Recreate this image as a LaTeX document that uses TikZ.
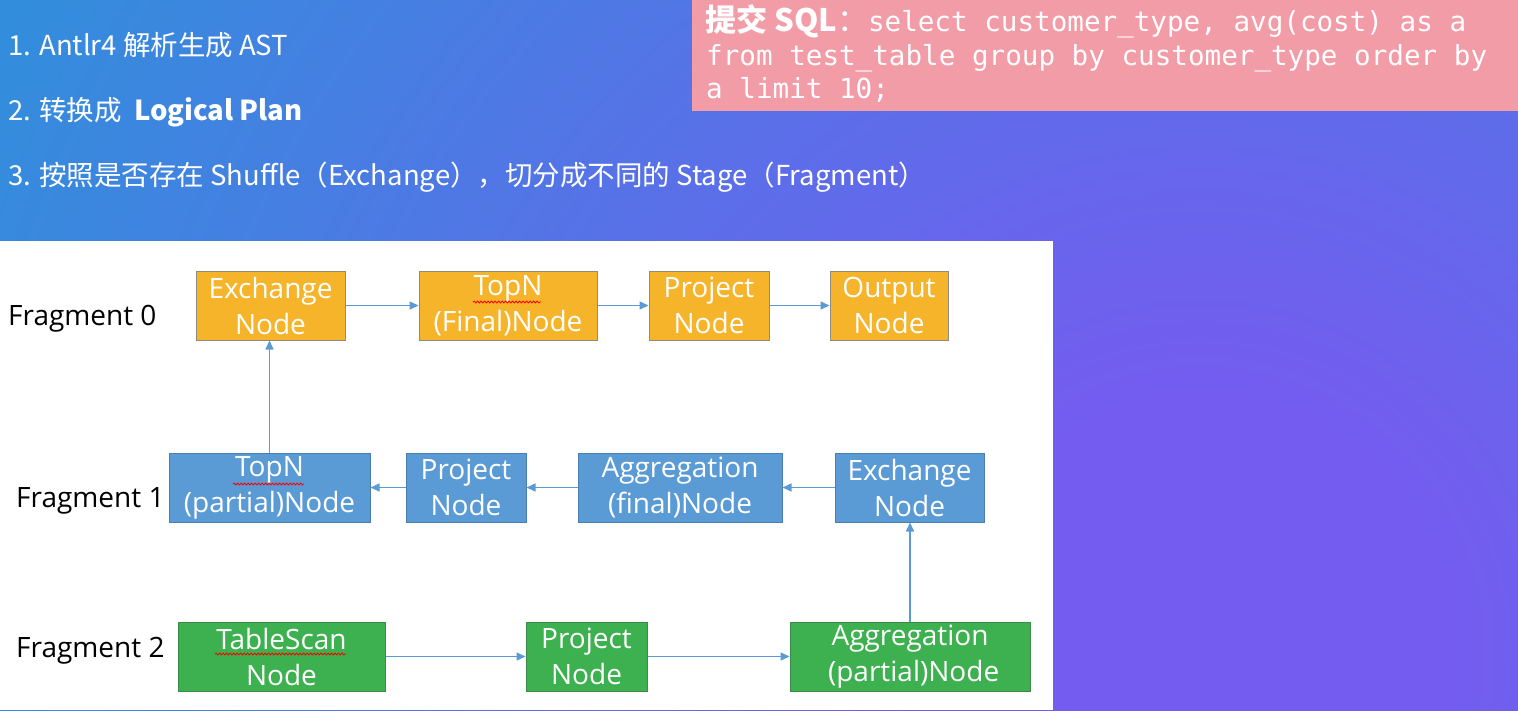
\documentclass[tikz,border=0pt]{standalone}
\usepackage{fontspec}
\setmainfont{Noto Sans CJK SC}
\newfontfamily\boxfont{Open Sans}
\newfontfamily\cjkfont{Noto Sans CJK SC}
\setmonofont{DejaVu Sans Mono}
\usetikzlibrary{arrows.meta,decorations.pathmorphing}
\definecolor{bgpurple}{HTML}{745CF0}
\definecolor{bgblue}{HTML}{2F90DB}
\definecolor{sqlpink}{HTML}{F29CA8}
\definecolor{orfill}{HTML}{F6B42A}
\definecolor{orline}{HTML}{8E8A7E}
\definecolor{blfill}{HTML}{5B9BD5}
\definecolor{blline}{HTML}{4A7EB0}
\definecolor{grfill}{HTML}{3DB04F}
\definecolor{grline}{HTML}{3A8A48}
\definecolor{arrowc}{HTML}{5B9BD5}
\pgfdeclareradialshading{bgshade}{\pgfpoint{0bp}{0bp}}{color(0bp)=(bgpurple); color(4.5bp)=(bgpurple); color(25bp)=(bgblue); color(50bp)=(bgblue)}
\tikzset{
  blk/.style={draw, line width=1pt, text=white, align=center, inner sep=0pt,
    minimum height=69pt, font=\boxfont\fontsize{28}{36}\selectfont},
  orb/.style={blk, fill=orfill, draw=orline},
  blb/.style={blk, fill=blfill, draw=blline},
  grb/.style={blk, fill=grfill, draw=grline},
  conn/.style={draw=arrowc, line width=1.5pt, -{Triangle[length=9pt,width=8pt]}},
  fraglbl/.style={anchor=base west, inner sep=0pt, text=black, font=\boxfont\fontsize{28}{34}\selectfont},
  toptxt/.style={anchor=base west, inner sep=0pt, text=white, font=\fontsize{27.5}{32}\selectfont},
  sqltxt/.style={anchor=base west, inner sep=0pt, text=white, font=\ttfamily\fontsize{27.6}{34}\selectfont},
  squig/.style={draw=red, line width=0.8pt, decorate, decoration={snake, amplitude=1pt, segment length=3.5pt}}
}
\begin{document}
\begin{tikzpicture}[x=1pt,y=-1pt]
\useasboundingbox (0,0) rectangle (1518,710);
% background
\begin{scope}
  \clip (0,0) rectangle (1518,710);
  \path[shading=bgshade] (-200,-750) rectangle (2600,2050);
\end{scope}
% white panel
\fill[white] (0,241) rectangle (1053,710);
% SQL box
\fill[sqlpink] (692,0) rectangle (1518,111);
\node[sqltxt] (s1) at (705,31) {{\cjkfont\bfseries\fontsize{31}{34}\selectfont 提交 SQL}{\cjkfont\fontsize{31}{34}\selectfont ：}select customer\textunderscore type, avg(cost) as a};
\node[sqltxt] (s2) at (706,65) {from test\textunderscore table group by customer\textunderscore type order by};
\node[sqltxt] (s3) at (706,98) {a limit 10;};
% top text
\node[toptxt] (l1) at (8,55) {1. Antlr4 解析生成 AST};
\node[toptxt] (l2) at (8,120) {2. 转换成\ \ \textbf{Logical Plan}};
\node[toptxt] (l3) at (8,185) {3. 按照是否存在 Shuffle（Exchange），切分成不同的 Stage（Fragment）};
% fragment labels
\node[fraglbl] (f0) at (8,325) {Fragment 0};
\node[fraglbl] (f1) at (16,507) {Fragment 1};
\node[fraglbl] (f2) at (16,657) {Fragment 2};
% fragment 0
\node[orb, minimum width=149pt] (e0) at (270.5,305.5) {Exchange\\Node};
\node[orb, minimum width=178pt] (t0) at (508,305.5) {TopN\\(Final)Node};
\node[orb, minimum width=120pt] (p0) at (709,305.5) {Project\\Node};
\node[orb, minimum width=118pt] (o0) at (889,305.5) {Output\\Node};
% fragment 1
\node[blb, minimum width=201pt] (t1) at (269.5,487.5) {TopN\\(partial)Node};
\node[blb, minimum width=120pt] (p1) at (466,487.5) {Project\\Node};
\node[blb, minimum width=204pt] (a1) at (680,487.5) {Aggregation\\(final)Node};
\node[blb, minimum width=149pt] (e1) at (909.5,487.5) {Exchange\\Node};
% fragment 2
\node[grb, minimum width=207pt] (s2n) at (281.5,656.5) {TableScan\\Node};
\node[grb, minimum width=121pt] (p2) at (586.5,656.5) {Project\\Node};
\node[grb, minimum width=240pt] (a2) at (910,656.5) {Aggregation\\\ (partial)Node};
% connectors
\draw[conn] (e0) -- (t0);
\draw[conn] (t0) -- (p0);
\draw[conn] (p0) -- (o0);
\draw[conn] (e1) -- (a1);
\draw[conn] (a1) -- (p1);
\draw[conn] (p1) -- (t1);
\draw[conn] (s2n) -- (p2);
\draw[conn] (p2) -- (a2);
\draw[conn] (t1.north) -- (t1.north |- e0.south);
\draw[conn] (a2.north) -- (a2.north |- e1.south);
% spell-check squiggles
\draw[squig] (473,302) -- (541,302);
\draw[squig] (233,484) -- (304,484);
\draw[squig] (215,654) -- (346,654);
\end{tikzpicture}
\end{document}
